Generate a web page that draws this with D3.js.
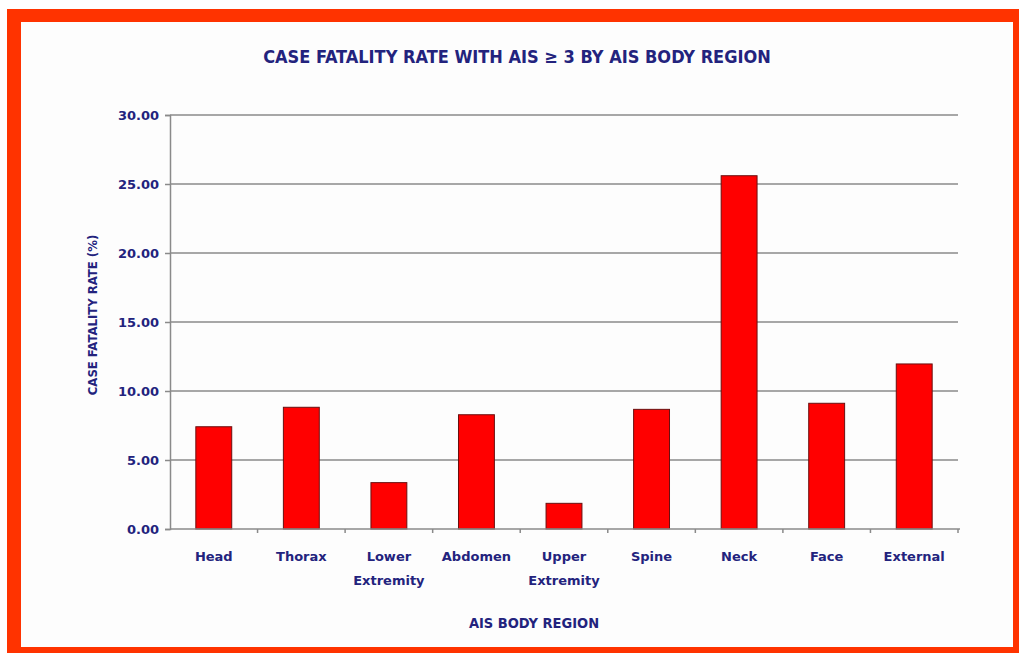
<!DOCTYPE html>
<html>
<head>
<meta charset="utf-8">
<script src="https://cdn.jsdelivr.net/npm/d3@7"></script>
<style>
  body { margin: 0; background: #fff; }
  text { fill: #23237d; font-weight: bold; }
</style>
</head>
<body>
<svg id="chart"></svg>
<script>
// data
const regions = ["Head", "Thorax", "Lower Extremity", "Abdomen", "Upper Extremity", "Spine", "Neck", "Face", "External"];
const fatalityRate = [7.41, 8.82, 3.36, 8.28, 1.86, 8.67, 25.6, 9.11, 11.96];
const yTicks = [0, 5, 10, 15, 20, 25, 30];

const W = 1019, H = 653;
const svg = d3.select("#chart").attr("width", W).attr("height", H);

// frame
svg.append("rect").attr("x", 7).attr("y", 9).attr("width", W - 7).attr("height", H - 9).attr("fill", "#ff3300");
svg.append("rect").attr("x", 21).attr("y", 22).attr("width", 1013 - 21).attr("height", 647 - 22).attr("fill", "#fdfdfd");

// plot area
const pLeft = 170, pRight = 958, pTop = 115, pBottom = 529;
const x = d3.scaleBand().domain(regions).range([pLeft, pRight]).paddingInner(0.59).paddingOuter(0.295);
const bandX = d3.scaleBand().domain(regions).range([pLeft, pRight]);
const y = d3.scaleLinear().domain([0, 30]).range([pBottom, pTop]);

// gridlines
svg.append("g")
  .selectAll("line")
  .data(yTicks.filter(d => d > 0))
  .join("line")
    .attr("x1", pLeft).attr("x2", pRight)
    .attr("y1", d => y(d)).attr("y2", d => y(d))
    .attr("stroke", "#8a8a8a")
    .attr("stroke-width", 1.5);

// bars
svg.append("g")
  .selectAll("rect")
  .data(regions)
  .join("rect")
    .attr("x", d => x(d))
    .attr("y", (d, i) => y(fatalityRate[i]))
    .attr("width", x.bandwidth())
    .attr("height", (d, i) => pBottom - y(fatalityRate[i]))
    .attr("fill", "#ff0000")
    .attr("stroke", "#6a1010")
    .attr("stroke-width", 1);

// y axis
const yAxis = svg.append("g")
  .attr("transform", `translate(${pLeft},0)`)
  .call(d3.axisLeft(y).tickValues(yTicks).tickFormat(d3.format(".2f")).tickSize(5).tickPadding(6));
yAxis.select(".domain").attr("stroke", "#8a8a8a").attr("stroke-width", 1.5);
yAxis.selectAll(".tick line").attr("stroke", "#8a8a8a").attr("stroke-width", 1.5);
yAxis.selectAll(".tick text")
  .style("font-family", "'DejaVu Sans', Verdana, sans-serif")
  .style("font-size", "13px")
  .style("fill", "#23237d");

// x axis
const xAxis = svg.append("g").attr("transform", `translate(0,${pBottom})`);
xAxis.append("line")
  .attr("x1", pLeft).attr("x2", pRight + 2)
  .attr("stroke", "#8a8a8a").attr("stroke-width", 1.5);
xAxis.selectAll("line.tk")
  .data(regions)
  .join("line")
    .attr("class", "tk")
    .attr("x1", d => bandX(d) + bandX.bandwidth()).attr("x2", d => bandX(d) + bandX.bandwidth())
    .attr("y1", 0).attr("y2", 4)
    .attr("stroke", "#8a8a8a").attr("stroke-width", 1.5);
xAxis.selectAll("text")
  .data(regions)
  .join("text")
    .attr("x", d => bandX(d) + bandX.bandwidth() / 2)
    .attr("y", 32)
    .attr("text-anchor", "middle")
    .style("font-family", "'DejaVu Sans', Verdana, sans-serif")
    .style("font-size", "13px")
    .each(function(d) {
      const words = d.split(" ");
      const cx = d3.select(this).attr("x");
      d3.select(this).selectAll("tspan")
        .data(words)
        .join("tspan")
          .attr("x", cx)
          .attr("dy", (w, i) => i === 0 ? 0 : 24)
          .text(w => w);
    });

// titles
svg.append("text")
  .attr("x", 517).attr("y", 63)
  .attr("text-anchor", "middle")
  .style("font-family", "'DejaVu Sans Condensed', 'DejaVu Sans', sans-serif")
  .style("font-size", "18px")
  .text("CASE FATALITY RATE WITH AIS \u2265 3 BY AIS BODY REGION");

svg.append("text")
  .attr("x", 534).attr("y", 628)
  .attr("text-anchor", "middle")
  .style("font-family", "'DejaVu Sans Condensed', 'DejaVu Sans', sans-serif")
  .style("font-size", "14.5px")
  .text("AIS BODY REGION");

svg.append("text")
  .attr("transform", "translate(97,315) rotate(-90)")
  .attr("text-anchor", "middle")
  .style("font-family", "'DejaVu Sans Condensed', 'DejaVu Sans', sans-serif")
  .style("font-size", "13px")
  .text("CASE FATALITY RATE (%)");
</script>
</body>
</html>
